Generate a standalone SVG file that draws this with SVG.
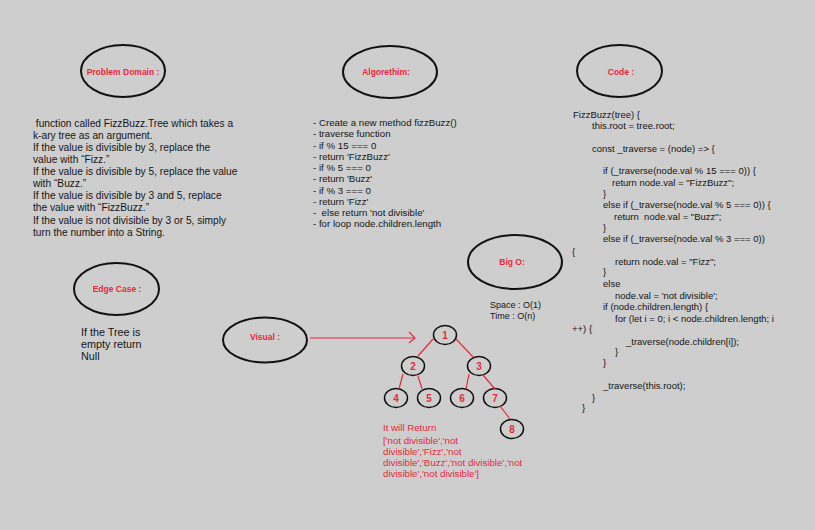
<svg xmlns="http://www.w3.org/2000/svg" width="815" height="530" viewBox="0 0 815 530">
  <defs>
    <style>
      .bg { fill: #cecece; }
      .oval { fill: none; stroke: #111; stroke-width: 2; }
      .node { fill: none; stroke: #111; stroke-width: 1.5; }
      .title { font-family: "Liberation Sans", Arial, sans-serif; font-size: 8.5px; font-weight: bold; fill: #e8283c; text-anchor: middle; }
      .body { font-family: "Liberation Sans", Arial, sans-serif; font-size: 10.2px; fill: #151515; }
      .algo { font-family: "Liberation Sans", Arial, sans-serif; font-size: 9.7px; fill: #151515; }
      .code { font-family: "Liberation Sans", Arial, sans-serif; font-size: 9.5px; fill: #151515; }
      .edgetxt { font-family: "Liberation Sans", Arial, sans-serif; font-size: 10.8px; fill: #151515; }
      .bigo { font-family: "Liberation Sans", Arial, sans-serif; font-size: 9px; fill: #151515; }
      .num { font-family: "Liberation Sans", Arial, sans-serif; font-size: 10px; font-weight: bold; fill: #e8283c; text-anchor: middle; }
      .red { font-family: "Liberation Sans", Arial, sans-serif; font-size: 9.7px; fill: #e8283c; }
      .edge { stroke: #e8283c; stroke-width: 1.2; fill: none; }
    </style>
  </defs>

  <rect class="bg" x="0" y="0" width="815" height="530"/>

  <!-- Problem domain -->
  <g id="problem-domain">
    <ellipse class="oval" cx="123" cy="71" rx="42" ry="26"/>
    <text class="title" x="123" y="75">Problem Domain :</text>
    <text class="body" x="33" y="127" xml:space="preserve"> function called FizzBuzz.Tree which takes a</text>
    <text class="body" x="33" y="139">k-ary tree as an argument.</text>
    <text class="body" x="33" y="151">If the value is divisible by 3, replace the</text>
    <text class="body" x="33" y="163">value with “Fizz.”</text>
    <text class="body" x="33" y="175">If the value is divisible by 5, replace the value</text>
    <text class="body" x="33" y="187">with “Buzz.”</text>
    <text class="body" x="33" y="199">If the value is divisible by 3 and 5, replace</text>
    <text class="body" x="33" y="211">the value with “FizzBuzz.”</text>
    <text class="body" x="33" y="224">If the value is not divisible by 3 or 5, simply</text>
    <text class="body" x="33" y="236">turn the number into a String.</text>
  </g>

  <!-- Algorithm -->
  <g id="algorithm">
    <ellipse class="oval" cx="390" cy="72" rx="47" ry="26"/>
    <text class="title" x="386" y="75">Algorethim:</text>
    <text class="algo" x="313" y="126">- Create a new method fizzBuzz()</text>
    <text class="algo" x="313" y="137">- traverse function</text>
    <text class="algo" x="313" y="149">- if % 15 === 0</text>
    <text class="algo" x="313" y="160">- return 'FizzBuzz'</text>
    <text class="algo" x="313" y="171">- if % 5 === 0</text>
    <text class="algo" x="313" y="182">- return 'Buzz'</text>
    <text class="algo" x="313" y="194">- if % 3 === 0</text>
    <text class="algo" x="313" y="205">- return 'Fizz'</text>
    <text class="algo" x="313" y="216" xml:space="preserve">-  else return 'not divisible'</text>
    <text class="algo" x="313" y="227">- for loop node.children.length</text>
  </g>

  <!-- Code -->
  <g id="code">
    <ellipse class="oval" cx="619.5" cy="71" rx="42.5" ry="26"/>
    <text class="title" x="621" y="75">Code :</text>
    <text class="code" x="573" y="118">FizzBuzz(tree) {</text>
    <text class="code" x="592" y="129">this.root = tree.root;</text>
    <text class="code" x="592" y="152">const _traverse = (node) =&gt; {</text>
    <text class="code" x="603" y="174">if (_traverse(node.val % 15 === 0)) {</text>
    <text class="code" x="612" y="186">return node.val = "FizzBuzz";</text>
    <text class="code" x="603" y="197">}</text>
    <text class="code" x="603" y="208">else if (_traverse(node.val % 5 === 0)) {</text>
    <text class="code" x="614" y="220" xml:space="preserve">return  node.val = "Buzz";</text>
    <text class="code" x="603" y="231">}</text>
    <text class="code" x="603" y="242">else if (_traverse(node.val % 3 === 0))</text>
    <text class="code" x="572" y="255">{</text>
    <text class="code" x="615" y="265">return node.val = "Fizz";</text>
    <text class="code" x="603" y="275">}</text>
    <text class="code" x="603" y="287">else</text>
    <text class="code" x="615" y="299">node.val = 'not divisible';</text>
    <text class="code" x="603" y="310">if (node.children.length) {</text>
    <text class="code" x="615" y="322">for (let i = 0; i &lt; node.children.length; i</text>
    <text class="code" x="572" y="332">++) {</text>
    <text class="code" x="626" y="345">_traverse(node.children[i]);</text>
    <text class="code" x="615" y="355">}</text>
    <text class="code" x="603" y="366">}</text>
    <text class="code" x="603" y="389">_traverse(this.root);</text>
    <text class="code" x="592" y="401">}</text>
    <text class="code" x="582" y="411">}</text>
  </g>

  <!-- Edge case -->
  <g id="edge-case">
    <ellipse class="oval" cx="116.5" cy="289" rx="42.5" ry="26"/>
    <text class="title" x="117" y="292">Edge Case :</text>
    <text class="edgetxt" x="81" y="336">If the Tree is</text>
    <text class="edgetxt" x="81" y="348">empty return</text>
    <text class="edgetxt" x="81" y="360">Null</text>
  </g>

  <!-- Big O -->
  <g id="big-o">
    <ellipse class="oval" cx="515" cy="262" rx="47" ry="27"/>
    <text class="title" x="512" y="265">Big O:</text>
    <text class="bigo" x="490" y="308">Space : O(1)</text>
    <text class="bigo" x="490" y="319">Time : O(n)</text>
  </g>

  <!-- Visual -->
  <g id="visual">
    <ellipse class="oval" cx="265" cy="340" rx="42" ry="22.5"/>
    <text class="title" x="265" y="340">Visual :</text>
  </g>

  <!-- Tree nodes -->
  <g id="node-1"><ellipse class="node" cx="445" cy="335" rx="11.5" ry="9.5"/><text class="num" x="445" y="339">1</text></g>
  <g id="node-2"><ellipse class="node" cx="413" cy="366" rx="11.5" ry="9.5"/><text class="num" x="413" y="370">2</text></g>
  <g id="node-3"><ellipse class="node" cx="479" cy="366" rx="11.5" ry="9.5"/><text class="num" x="479" y="370">3</text></g>
  <g id="node-4"><ellipse class="node" cx="396" cy="398" rx="11.5" ry="9.5"/><text class="num" x="396" y="402">4</text></g>
  <g id="node-5"><ellipse class="node" cx="429" cy="398" rx="11.5" ry="9.5"/><text class="num" x="429" y="402">5</text></g>
  <g id="node-6"><ellipse class="node" cx="462" cy="398" rx="11.5" ry="9.5"/><text class="num" x="462" y="402">6</text></g>
  <g id="node-7"><ellipse class="node" cx="495" cy="398" rx="11.5" ry="9.5"/><text class="num" x="495" y="402">7</text></g>
  <g id="node-8"><ellipse class="node" cx="512" cy="429" rx="11.5" ry="9.5"/><text class="num" x="512" y="433">8</text></g>

  <!-- Connectors -->
  <g id="connectors">
    <path class="edge" d="M310 338 L415 338"/>
    <path class="edge" d="M409 332 L415 338 L409 343"/>
    <path class="edge" d="M433 339 L418 356"/>
    <path class="edge" d="M456 339 L473 357"/>
    <path class="edge" d="M403 374 L399 389"/>
    <path class="edge" d="M418 376 L422 389"/>
    <path class="edge" d="M469 374 L466 389"/>
    <path class="edge" d="M483 375 L495 389"/>
    <path class="edge" d="M500 406 L510 419"/>
  </g>

  <!-- Result -->
  <g id="result">
    <text class="red" x="383" y="431">It will Return</text>
    <text class="red" x="383" y="444">['not divisible','not</text>
    <text class="red" x="383" y="455">divisible','Fizz','not</text>
    <text class="red" x="383" y="466">divisible','Buzz','not divisible','not</text>
    <text class="red" x="383" y="477">divisible','not divisible']</text>
  </g>
</svg>
